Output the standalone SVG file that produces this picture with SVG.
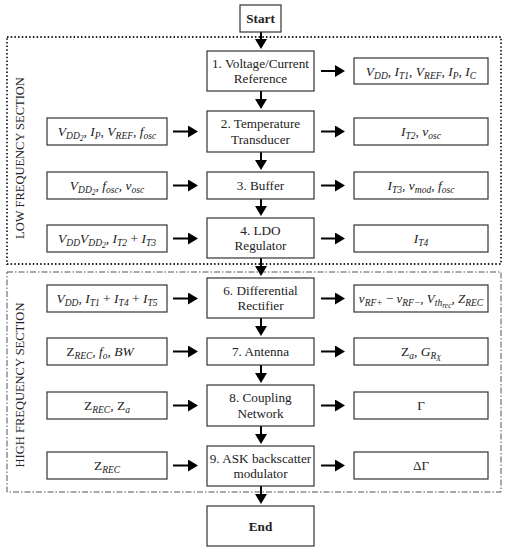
<svg xmlns="http://www.w3.org/2000/svg" width="506" height="550" viewBox="0 0 506 550">
<defs>
<style>
.bx{fill:#fff;stroke:#333;stroke-width:1.2}
.t{font-family:"Liberation Serif","DejaVu Serif",serif;font-size:13.2px;fill:#222;text-anchor:middle}
.b{font-weight:bold}
.m{font-family:"Liberation Serif","DejaVu Serif",serif;font-size:13.5px;font-style:italic;fill:#222;text-anchor:middle}
.u{font-style:normal}
.s{font-size:9.5px}
.ss{font-size:7.5px}
.ar{stroke:#000;stroke-width:2;fill:none;marker-end:url(#ah)}
.sec{font-family:"Liberation Serif","DejaVu Serif",serif;font-size:12.5px;fill:#222;text-anchor:middle}
</style>
<marker id="ah" viewBox="0 0 10 12" refX="2" refY="6" markerWidth="10" markerHeight="12" markerUnits="userSpaceOnUse" orient="auto">
<path d="M0,0 L10,6 L0,12 z" fill="#000"/>
</marker>
</defs>
<rect width="506" height="550" fill="#fff"/>

<g id="lf-section">
<rect x="7" y="37" width="494" height="227" fill="none" stroke="#222" stroke-width="1.8" stroke-dasharray="1.5 2.2"/>
<text class="sec" transform="translate(24,158) rotate(-90)">LOW FREQUENCY SECTION</text>
</g>
<g id="hf-section">
<rect x="7" y="272" width="494" height="220" fill="none" stroke="#555" stroke-width="1" stroke-dasharray="6 2 1.5 2"/>
<text class="sec" transform="translate(24,385) rotate(-90)">HIGH FREQUENCY SECTION</text>
</g>

<g id="connectors">
<line class="ar" x1="261" y1="32" x2="261" y2="41"/>
<line class="ar" x1="261" y1="91" x2="261" y2="101"/>
<line class="ar" x1="261" y1="152" x2="261" y2="162"/>
<line class="ar" x1="261" y1="199" x2="261" y2="208"/>
<line class="ar" x1="261" y1="258" x2="261" y2="268"/>
<line class="ar" x1="261" y1="318" x2="261" y2="328"/>
<line class="ar" x1="261" y1="365" x2="261" y2="375"/>
<line class="ar" x1="261" y1="426" x2="261" y2="436"/>
<line class="ar" x1="261" y1="486" x2="261" y2="496"/>
<line class="ar" x1="321" y1="71" x2="337" y2="71"/>
<line class="ar" x1="173" y1="131.5" x2="190" y2="131.5"/>
<line class="ar" x1="321" y1="131.5" x2="337" y2="131.5"/>
<line class="ar" x1="173" y1="185.5" x2="190" y2="185.5"/>
<line class="ar" x1="321" y1="185.5" x2="337" y2="185.5"/>
<line class="ar" x1="173" y1="238.5" x2="190" y2="238.5"/>
<line class="ar" x1="321" y1="238.5" x2="337" y2="238.5"/>
<line class="ar" x1="173" y1="298.5" x2="190" y2="298.5"/>
<line class="ar" x1="321" y1="298.5" x2="337" y2="298.5"/>
<line class="ar" x1="173" y1="351.5" x2="190" y2="351.5"/>
<line class="ar" x1="321" y1="351.5" x2="337" y2="351.5"/>
<line class="ar" x1="173" y1="405.5" x2="190" y2="405.5"/>
<line class="ar" x1="321" y1="405.5" x2="337" y2="405.5"/>
<line class="ar" x1="173" y1="465.5" x2="190" y2="465.5"/>
<line class="ar" x1="321" y1="465.5" x2="337" y2="465.5"/>
</g>

<g id="start"><rect class="bx" x="240" y="5" width="41" height="27"/><text class="t b" x="260.5" y="23">Start</text></g>

<g id="n1"><rect class="bx" x="207" y="51" width="107" height="40"/><text class="t" x="260.5" y="67.5">1. Voltage/Current</text><text class="t" x="260.5" y="83">Reference</text></g>
<g id="o1"><rect class="bx" x="354" y="58" width="134" height="26"/>
<text class="m" x="421" y="75.5">V<tspan class="s" dy="3">DD</tspan><tspan dy="-3">, I</tspan><tspan class="s" dy="3">T1</tspan><tspan dy="-3">, V</tspan><tspan class="s" dy="3">REF</tspan><tspan dy="-3">, I</tspan><tspan class="s" dy="3">P</tspan><tspan dy="-3">, I</tspan><tspan class="s" dy="3">C</tspan></text></g>

<g id="n2"><rect class="bx" x="207" y="111" width="107" height="41"/><text class="t" x="260.5" y="128">2. Temperature</text><text class="t" x="260.5" y="143.5">Transducer</text></g>
<g id="i2"><rect class="bx" x="47" y="118" width="120" height="27"/>
<text class="m" x="107" y="135.5">V<tspan class="s" dy="3">DD</tspan><tspan class="ss" dy="2">2</tspan><tspan dy="-5">, I</tspan><tspan class="s" dy="3">P</tspan><tspan dy="-3">, V</tspan><tspan class="s" dy="3">REF</tspan><tspan dy="-3">, f</tspan><tspan class="s" dy="3">osc</tspan></text></g>
<g id="o2"><rect class="bx" x="354" y="118" width="134" height="27"/>
<text class="m" x="421" y="135.5">I<tspan class="s" dy="3">T2</tspan><tspan dy="-3">, v</tspan><tspan class="s" dy="3">osc</tspan></text></g>

<g id="n3"><rect class="bx" x="207" y="172" width="107" height="27"/><text class="t" x="260.5" y="190">3. Buffer</text></g>
<g id="i3"><rect class="bx" x="47" y="172" width="120" height="27"/>
<text class="m" x="107" y="189.5">V<tspan class="s" dy="3">DD</tspan><tspan class="ss" dy="2">2</tspan><tspan dy="-5">, f</tspan><tspan class="s" dy="3">osc</tspan><tspan dy="-3">, v</tspan><tspan class="s" dy="3">osc</tspan></text></g>
<g id="o3"><rect class="bx" x="354" y="172" width="134" height="27"/>
<text class="m" x="421" y="189.5">I<tspan class="s" dy="3">T3</tspan><tspan dy="-3">, v</tspan><tspan class="s" dy="3">mod</tspan><tspan dy="-3">, f</tspan><tspan class="s" dy="3">osc</tspan></text></g>

<g id="n4"><rect class="bx" x="207" y="218" width="107" height="40"/><text class="t" x="260.5" y="234.5">4. LDO</text><text class="t" x="260.5" y="250">Regulator</text></g>
<g id="i4"><rect class="bx" x="47" y="225" width="120" height="27"/>
<text class="m" x="107" y="242.5">V<tspan class="s" dy="3">DD</tspan><tspan dy="-3">V</tspan><tspan class="s" dy="3">DD</tspan><tspan class="ss" dy="2">2</tspan><tspan dy="-5">, I</tspan><tspan class="s" dy="3">T2</tspan><tspan dy="-3" class="u"> + </tspan><tspan>I</tspan><tspan class="s" dy="3">T3</tspan></text></g>
<g id="o4"><rect class="bx" x="354" y="225" width="134" height="27"/>
<text class="m" x="421" y="242.5">I<tspan class="s" dy="3">T4</tspan></text></g>

<g id="n6"><rect class="bx" x="207" y="278" width="107" height="40"/><text class="t" x="260.5" y="294.5">6. Differential</text><text class="t" x="260.5" y="310">Rectifier</text></g>
<g id="i6"><rect class="bx" x="47" y="285" width="120" height="27"/>
<text class="m" x="107" y="302.5">V<tspan class="s" dy="3">DD</tspan><tspan dy="-3">, I</tspan><tspan class="s" dy="3">T1</tspan><tspan dy="-3" class="u"> + </tspan><tspan>I</tspan><tspan class="s" dy="3">T4</tspan><tspan dy="-3" class="u"> + </tspan><tspan>I</tspan><tspan class="s" dy="3">T5</tspan></text></g>
<g id="o6"><rect class="bx" x="354" y="285" width="134" height="27"/>
<text class="m" x="421" y="302.5" style="font-size:13px">v<tspan class="s" dy="3">RF+</tspan><tspan dy="-3" class="u"> − </tspan><tspan>v</tspan><tspan class="s" dy="3">RF−</tspan><tspan dy="-3">, V</tspan><tspan class="s" dy="3">th</tspan><tspan class="ss" dy="2">rec</tspan><tspan dy="-5">, Z</tspan><tspan class="s" dy="3">REC</tspan></text></g>

<g id="n7"><rect class="bx" x="207" y="338" width="107" height="27"/><text class="t" x="260.5" y="356">7. Antenna</text></g>
<g id="i7"><rect class="bx" x="47" y="338" width="120" height="27"/>
<text class="m" x="100" y="355.5"><tspan class="u">Z</tspan><tspan class="s" dy="3">REC</tspan><tspan dy="-3">, f</tspan><tspan class="s" dy="3">o</tspan><tspan dy="-3">, BW</tspan></text></g>
<g id="o7"><rect class="bx" x="354" y="338" width="134" height="27"/>
<text class="m" x="421" y="355.5"><tspan class="u">Z</tspan><tspan class="s" dy="3">a</tspan><tspan dy="-3">, G</tspan><tspan class="s" dy="3">R</tspan><tspan class="ss" dy="2">X</tspan></text></g>

<g id="n8"><rect class="bx" x="207" y="385" width="107" height="41"/><text class="t" x="260.5" y="402">8. Coupling</text><text class="t" x="260.5" y="417.5">Network</text></g>
<g id="i8"><rect class="bx" x="47" y="392" width="120" height="27"/>
<text class="m" x="107" y="409.5"><tspan class="u">Z</tspan><tspan class="s" dy="3">REC</tspan><tspan dy="-3">, </tspan><tspan class="u">Z</tspan><tspan class="s" dy="3">a</tspan></text></g>
<g id="o8"><rect class="bx" x="354" y="392" width="134" height="27"/>
<text class="t" x="421" y="410">Γ</text></g>

<g id="n9"><rect class="bx" x="207" y="446" width="107" height="40"/><text class="t" x="260.5" y="462.5">9. ASK backscatter</text><text class="t" x="260.5" y="478">modulator</text></g>
<g id="i9"><rect class="bx" x="47" y="452" width="120" height="27"/>
<text class="m" x="107" y="469.5"><tspan class="u">Z</tspan><tspan class="s" dy="3">REC</tspan></text></g>
<g id="o9"><rect class="bx" x="354" y="452" width="134" height="27"/>
<text class="t" x="421" y="470">ΔΓ</text></g>

<g id="end"><rect class="bx" x="207" y="506" width="107" height="40"/><text class="t b" x="260.5" y="531">End</text></g>
</svg>
